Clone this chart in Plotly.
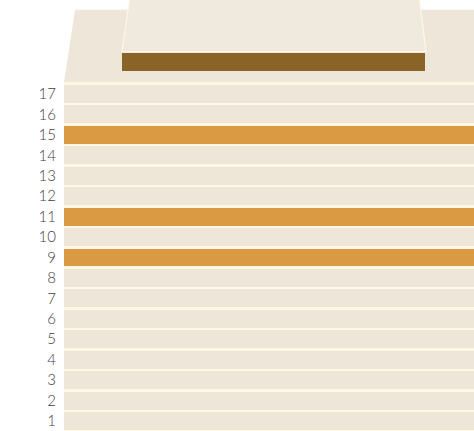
import plotly.graph_objects as go

floors = list(range(1, 18))
highlighted_floors = [9, 11, 15]
floor_labels = [str(f) for f in floors]
roof_level = [18.57]

BEIGE = "#EEE6D9"
ORANGE = "#D99A43"
BROWN = "#8A6426"
CREAM = "#FFF7E4"

colors = [ORANGE if f in highlighted_floors else BEIGE for f in floors]

fig = go.Figure()
fig.add_trace(go.Bar(
    y=floors, x=[1] * len(floors), base=0, orientation="h",
    marker=dict(color=colors, line=dict(width=0)), width=0.88,
    hoverinfo="y", showlegend=False,
))
fig.add_trace(go.Bar(
    y=roof_level, x=[0.739], base=0.1415, orientation="h",
    marker=dict(color=BROWN, line=dict(width=0)), width=0.88,
    hoverinfo="skip", showlegend=False,
))

shapes = [
    dict(type="rect", xref="x", yref="y", x0=0, x1=1.01, y0=0.3, y1=17.6,
         fillcolor=CREAM, line=dict(width=0), layer="below"),
    dict(type="path", xref="x", yref="y",
         path="M 0,17.57 L 0.027,21.12 L 1.01,21.12 L 1.01,17.57 Z",
         fillcolor=BEIGE, line=dict(width=0), layer="below"),
    dict(type="path", xref="x", yref="y",
         path="M 0.1415,19.07 L 0.161,21.8 L 0.866,21.8 L 0.883,19.07 Z",
         fillcolor="#F0E9DE", line=dict(color=CREAM, width=1.2), layer="below"),
]

fig.update_layout(
    width=474, height=431,
    margin=dict(l=64, r=0, t=0, b=0),
    paper_bgcolor="white", plot_bgcolor="white",
    bargap=0,
    shapes=shapes,
    xaxis=dict(range=[0, 1], visible=False, fixedrange=True),
    yaxis=dict(range=[0.51, 21.6], tickmode="array", tickvals=floors,
               ticktext=floor_labels, showgrid=False, zeroline=False,
               ticks="outside", ticklen=4, tickcolor="rgba(0,0,0,0)",
               tickfont=dict(family="Lato", size=15, color="#3f3f3f", weight=300),
               fixedrange=True),
)

fig.write_html(
    "out.html",
    config={"displayModeBar": False},
    post_script="document.body.style.margin='0';document.body.style.overflow='hidden';",
)
